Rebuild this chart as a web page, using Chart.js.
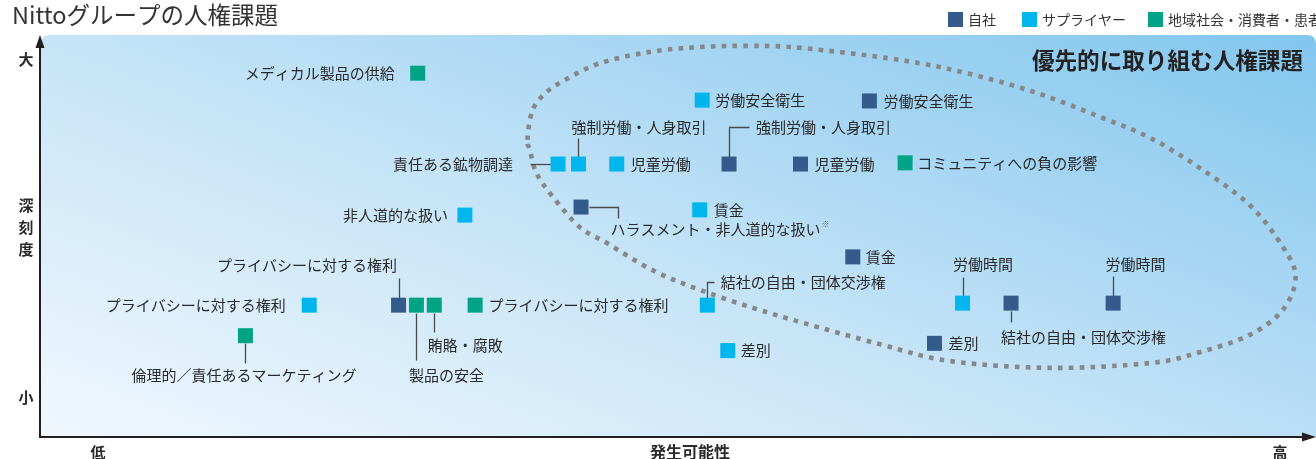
<!DOCTYPE html>
<html><head><meta charset="utf-8">
<script src="https://cdn.jsdelivr.net/npm/chart.js@4.4.0/dist/chart.umd.min.js"></script>
<style>html,body{margin:0;padding:0;background:#fff;overflow:hidden}canvas{display:block}</style>
</head><body>
<canvas id="c" width="1316" height="459"></canvas>
<script>
// ---------- DATA ----------
const chartTitle = 'Nittoグループの人権課題';
const priorityTitle = '優先的に取り組む人権課題';
const seriesNames = ['自社', 'サプライヤー', '地域社会・消費者・患者'];

const ownIssues = ['労働安全衛生','強制労働・人身取引','児童労働','ハラスメント・非人道的な扱い','賃金','結社の自由・団体交渉権','労働時間','差別','プライバシーに対する権利'];
const ownLikelihood = [65.0, 54.0, 59.6, 42.4, 63.7, 76.1, 84.1, 70.1, 28.1];
const ownSeverity   = [83.6, 67.9, 67.9, 57.2, 44.8, 33.3, 33.3, 23.3, 32.8];

const supplierIssues = ['労働安全衛生','強制労働・人身取引','責任ある鉱物調達','児童労働','非人道的な扱い','賃金','労働時間','結社の自由・団体交渉権','差別','プライバシーに対する権利'];
const supplierLikelihood = [51.9, 42.2, 40.6, 45.2, 33.3, 51.7, 72.3, 52.3, 53.9, 21.1];
const supplierSeverity   = [83.8, 67.9, 67.9, 67.9, 55.2, 56.5, 33.3, 32.8, 21.5, 32.8];

const communityIssues = ['メディカル製品の供給','コミュニティへの負の影響','プライバシーに対する権利','賄賂・腐敗','製品の安全','倫理的／責任あるマーケティング'];
const communityLikelihood = [29.6, 67.8, 34.1, 30.9, 29.5, 16.1];
const communitySeverity   = [90.5, 68.2, 32.8, 32.8, 32.8, 25.2];

const yAxisTitle = '深刻度';
const yTickLabels = ['大', '小'];
const xAxisTitle = '発生可能性';
const xTickLabels = ['低', '高'];

// outline of the priority region (likelihood, severity)
const priorityOutlineX = [38.2,38.6,39.7,41.3,43.9,47.8,51.7,55.6,59.6,67.4,72.9,78.1,83.1,87.0,90.9,94.8,97.4,98.4,97.4,94.8,90.9,87.0,79.2,71.3,65.8,59.8,55.9,51.7,48.0,44.4,42.3,40.2,38.9,38.4];
const priorityOutlineY = [73.9,81.3,85.8,89.1,93.0,95.8,97.0,97.3,96.8,93.8,90.3,85.6,79.6,74.4,66.9,57.7,47.3,39.8,31.6,25.4,21.1,18.4,17.2,18.9,23.1,28.4,32.1,36.6,41.5,48.3,52.2,59.7,65.7,71.4];

// ---------- STYLE / LAYOUT ----------
const seriesColors = ['#345b8c', '#00b6ec', '#00a386'];
const FONT = '"Noto Sans CJK JP", "Noto Sans", sans-serif';
const TEXT = '#2a2a2a';
const LEADER = '#4a4a4a';

// label placement relative to each marker (pixels)
const labelLayout = [
  [ // own
    {a:'left', dx:14, dy:0},
    {a:'left', dx:27, dy:-37, leader:[[0,-7.5],[0,-37],[20,-37]]},
    {a:'left', dx:14, dy:0},
    {a:'left', dx:29.5, dy:22, leader:[[7.5,0],[36.5,0],[36.5,11]], note:'※'},
    {a:'left', dx:13, dy:0},
    {a:'left', dx:-10, dy:34, leader:[[0,7.5],[0,19]]},
    {a:'left', dx:-7.5, dy:-39, leader:[[0,-7.5],[0,-27]]},
    {a:'left', dx:14, dy:0},
    {a:'right', dx:-1.5, dy:-40, leader:[[0,-7.5],[0,-27]]}
  ],
  [ // supplier
    {a:'left', dx:13, dy:0},
    {a:'left', dx:-7, dy:-37, leader:[[0,-7.5],[0,-26]]},
    {a:'right', dx:-45, dy:0, leader:[[-7.5,0],[-28,0]]},
    {a:'left', dx:14, dy:0},
    {a:'right', dx:-17, dy:0},
    {a:'left', dx:14, dy:0},
    {a:'left', dx:-9.5, dy:-39, leader:[[0,-7.5],[0,-26]]},
    {a:'left', dx:13.5, dy:-23, leader:[[0,-7.5],[0,-23],[7,-23]]},
    {a:'left', dx:13, dy:0},
    {a:'right', dx:-23.5, dy:0}
  ],
  [ // community
    {a:'right', dx:-23, dy:0},
    {a:'left', dx:12, dy:0},
    {a:'left', dx:13.5, dy:0},
    {a:'left', dx:-6.5, dy:40, leader:[[0,7.5],[0,27]]},
    {a:'left', dx:-7.5, dy:70, leader:[[0,7.5],[0,55]]},
    {a:'center', dx:-1.5, dy:40, leader:[[0,7.5],[0,27]]}
  ]
];

const seriesIssues = [ownIssues, supplierIssues, communityIssues];
function mk(xs, ys){ return xs.map((x,i)=>({x:x, y:ys[i]})); }
const datasets = [
  mk(ownLikelihood, ownSeverity),
  mk(supplierLikelihood, supplierSeverity),
  mk(communityLikelihood, communitySeverity)
].map((d,i)=>({
  label: seriesNames[i], data: d,
  pointStyle:'rect', pointRadius:10.6, pointHoverRadius:10.6,
  backgroundColor: seriesColors[i], borderWidth:0, showLine:false
}));

function closedSpline(ctx, pts){
  const n = pts.length;
  ctx.moveTo(pts[0][0], pts[0][1]);
  for (let i=0;i<n;i++){
    const p0=pts[(i-1+n)%n], p1=pts[i], p2=pts[(i+1)%n], p3=pts[(i+2)%n];
    const c1x=p1[0]+(p2[0]-p0[0])/6, c1y=p1[1]+(p2[1]-p0[1])/6;
    const c2x=p2[0]-(p3[0]-p1[0])/6, c2y=p2[1]-(p3[1]-p1[1])/6;
    ctx.bezierCurveTo(c1x,c1y,c2x,c2y,p2[0],p2[1]);
  }
  ctx.closePath();
}

const deco = {
  id:'deco',
  beforeDraw(chart){
    const ctx = chart.ctx, a = chart.chartArea;
    ctx.save();
    ctx.fillStyle='#fff'; ctx.fillRect(0,0,chart.width,chart.height);
    const x0=a.left+1, y0=a.top, x1=chart.width, y1=a.bottom;
    const vx=0.38, vy=-1;
    const len=Math.hypot(vx,vy), ux=vx/len, uy=vy/len;
    const proj=(x1-x0)*ux+(y0-y1)*uy;
    const g = ctx.createLinearGradient(x0,y1,x0+ux*proj,y1+uy*proj);
    g.addColorStop(0,'#f1f8fe');
    g.addColorStop(0.45,'#c6e4f7');
    g.addColorStop(1,'#82c6ee');
    ctx.fillStyle=g;
    const r=9;
    ctx.beginPath();
    ctx.moveTo(x0,y1); ctx.lineTo(x0,y0+r); ctx.quadraticCurveTo(x0,y0,x0+r,y0);
    ctx.lineTo(x1-r,y0); ctx.quadraticCurveTo(x1,y0,x1,y0+r); ctx.lineTo(x1,y1); ctx.closePath();
    ctx.fill();
    ctx.restore();
  },
  beforeDatasetsDraw(chart){
    const ctx = chart.ctx, sx=chart.scales.x, sy=chart.scales.y;
    ctx.save();
    const pts = priorityOutlineX.map((v,i)=>[sx.getPixelForValue(v), sy.getPixelForValue(priorityOutlineY[i])]);
    ctx.beginPath(); closedSpline(ctx, pts);
    ctx.strokeStyle='#878787'; ctx.lineWidth=4.6; ctx.setLineDash([4.6,6.2]);
    ctx.stroke();
    ctx.setLineDash([]);
    ctx.strokeStyle=LEADER; ctx.lineWidth=1.3;
    chart.data.datasets.forEach((ds,si)=>{
      const meta=chart.getDatasetMeta(si);
      meta.data.forEach((el,i)=>{
        const L=labelLayout[si][i];
        if(!L.leader) return;
        ctx.beginPath();
        L.leader.forEach((p,k)=>{ const X=Math.round(el.x+p[0])+0.5, Y=Math.round(el.y+p[1])+0.5; k?ctx.lineTo(X,Y):ctx.moveTo(X,Y); });
        ctx.stroke();
      });
    });
    ctx.restore();
  },
  afterDatasetsDraw(chart){
    const ctx = chart.ctx, a = chart.chartArea;
    ctx.save();
    ctx.fillStyle=TEXT; ctx.textBaseline='middle';
    chart.data.datasets.forEach((ds,si)=>{
      const meta=chart.getDatasetMeta(si);
      meta.data.forEach((el,i)=>{
        const L=labelLayout[si][i];
        const txt=seriesIssues[si][i];
        ctx.font='15px '+FONT;
        ctx.textAlign=L.a;
        const tx=el.x+L.dx, ty=el.y+L.dy;
        ctx.fillText(txt, tx, ty);
        if(L.note){
          const w=ctx.measureText(txt).width;
          ctx.font='8px '+FONT; ctx.textAlign='left';
          ctx.fillStyle='#666';
          ctx.fillText(L.note, tx+w+1, ty-5);
          ctx.fillStyle=TEXT;
        }
      });
    });
    ctx.font='bold 22.6px '+FONT; ctx.textAlign='right'; ctx.fillStyle='#222';
    ctx.fillText(priorityTitle, 1303, 60);
    // axes
    ctx.strokeStyle='#231f20'; ctx.fillStyle='#231f20'; ctx.lineWidth=2;
    ctx.beginPath(); ctx.moveTo(a.left, a.bottom); ctx.lineTo(a.left, a.top+10); ctx.stroke();
    ctx.beginPath(); ctx.moveTo(a.left-1, a.bottom); ctx.lineTo(chart.width-12, a.bottom); ctx.stroke();
    ctx.beginPath(); ctx.moveTo(a.left, a.top); ctx.lineTo(a.left-4.5, a.top+13); ctx.lineTo(a.left+4.5, a.top+13); ctx.closePath(); ctx.fill();
    ctx.beginPath(); ctx.moveTo(chart.width, a.bottom); ctx.lineTo(chart.width-14, a.bottom-4.5); ctx.lineTo(chart.width-14, a.bottom+4.5); ctx.closePath(); ctx.fill();
    ctx.fillStyle='#2a2a2a'; ctx.textAlign='center'; ctx.textBaseline='middle';
    ctx.font='bold 15px '+FONT;
    ctx.fillText(yTickLabels[0], 26, 59);
    ctx.fillText(yTickLabels[1], 26, 397);
    [...yAxisTitle].forEach((ch,i)=>ctx.fillText(ch, 26, 205+i*22));
    ctx.fillText(xTickLabels[0], 98, 452);
    ctx.fillText(xTickLabels[1], 1280, 452);
    ctx.font='bold 16px '+FONT;
    ctx.fillText(xAxisTitle, 690, 452);
    ctx.textAlign='left'; ctx.font='23.5px '+FONT; ctx.fillStyle='#333';
    ctx.fillText(chartTitle, 12, 15);
    const lx=[948,1022,1148];
    ctx.font='14px '+FONT;
    seriesNames.forEach((n,i)=>{
      ctx.fillStyle=seriesColors[i]; ctx.fillRect(lx[i],12,15,15);
      ctx.fillStyle='#333'; ctx.fillText(n, lx[i]+20, 19.5);
    });
    ctx.restore();
  }
};

new Chart(document.getElementById('c'), {
  type:'scatter',
  data:{datasets},
  options:{
    responsive:false, animation:false, devicePixelRatio:1,
    layout:{autoPadding:false, padding:{left:40, top:35, right:0, bottom:22}},
    scales:{
      x:{type:'linear', min:0, max:100, display:false},
      y:{type:'linear', min:0, max:100, display:false}
    },
    plugins:{legend:{display:false}, tooltip:{enabled:false}},
    elements:{point:{hitRadius:0}},
    clip:false
  },
  plugins:[deco]
});
</script>
</body></html>
